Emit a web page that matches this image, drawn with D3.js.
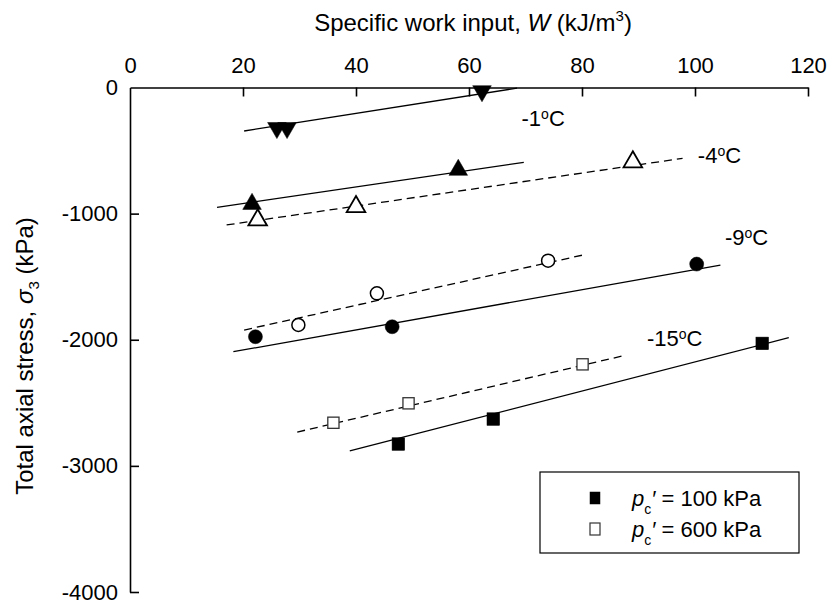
<!DOCTYPE html>
<html>
<head>
<meta charset="utf-8">
<script src="https://cdn.jsdelivr.net/npm/d3@7"></script>
<style>
  html, body { margin: 0; padding: 0; background: #fff; }
  svg { display: block; font-family: "Liberation Sans", Arial, sans-serif; }
</style>
</head>
<body>
<svg id="chart" width="829" height="605"></svg>
<script>
// Axis ticks
const xTicks = [0, 20, 40, 60, 80, 100, 120];
const yTicks = [0, -1000, -2000, -3000, -4000];

// Measured points: specific work input W (kJ/m3) vs total axial stress (kPa)
// p'c = 100 kPa (filled markers)
const w1C_100 = [26.0, 27.8, 62.3];
const s1C_100 = [-320, -320, -28];
const w4C_100 = [21.6, 58.1];
const s4C_100 = [-924, -654];
const w9C_100 = [22.2, 46.4, 100.3];
const s9C_100 = [-1976, -1897, -1400];
const w15C_100 = [47.5, 64.3, 111.9];
const s15C_100 = [-2827, -2629, -2029];

// p'c = 600 kPa (open markers)
const w4C_600 = [22.6, 40.0, 89.0];
const s4C_600 = [-1051, -945, -591];
const w9C_600 = [29.8, 43.7, 74.0];
const s9C_600 = [-1883, -1632, -1373];
const w15C_600 = [36.0, 49.3, 80.1];
const s15C_600 = [-2658, -2504, -2195];

// Linear trend lines: [W start, W end] and [stress start, stress end]
const fit1C_100 = { w: [20.2, 68.5], s: [-345, -5] };
const fit4C_100 = { w: [15.4, 69.7], s: [-950, -593] };
const fit4C_600 = { w: [17.1, 97.8], s: [-1090, -562] };
const fit9C_100 = { w: [18.3, 104.5], s: [-2095, -1408] };
const fit9C_600 = { w: [20.2, 80.2], s: [-1923, -1328] };
const fit15C_100 = { w: [38.9, 116.6], s: [-2882, -1984] };
const fit15C_600 = { w: [29.6, 87.6], s: [-2732, -2124] };

// Temperature labels: text, W and stress position
const tempLabels = ["-1", "-4", "-9", "-15"];
const tempLabelW = [69.3, 100.5, 105.3, 91.5];
const tempLabelS = [-245, -540, -1190, -1990];

const legendLabels = ["100", "600"];

const FONT = "Liberation Sans, Arial, sans-serif";
const svg = d3.select("#chart");
const x = d3.scaleLinear().domain([0, 120]).range([130, 808]);
const y = d3.scaleLinear().domain([0, -4000]).range([87.5, 592]);

// Top x axis, ticks pointing into the plot
const xAxis = svg.append("g")
  .attr("transform", `translate(0,${y(0)})`)
  .call(d3.axisTop(x).tickValues(xTicks).tickFormat(d => String(d))
    .tickSizeInner(-9).tickSizeOuter(0).tickPadding(15));
xAxis.select(".domain").attr("stroke", "#000").attr("stroke-width", 1.6);
xAxis.selectAll(".tick line").attr("stroke", "#000").attr("stroke-width", 1.6);
xAxis.selectAll(".tick").filter(d => d === 0).select("line").remove();
xAxis.selectAll(".tick text").attr("font-size", 22).attr("fill", "#000").attr("font-family", FONT);

// Left y axis, ticks pointing into the plot
const yAxis = svg.append("g")
  .attr("transform", `translate(${x(0)},0)`)
  .call(d3.axisLeft(y).tickValues(yTicks).tickFormat(d => String(d))
    .tickSizeInner(-9).tickSizeOuter(0).tickPadding(12));
yAxis.select(".domain").attr("stroke", "#000").attr("stroke-width", 1.6);
yAxis.selectAll(".tick line").attr("stroke", "#000").attr("stroke-width", 1.6);
yAxis.selectAll(".tick").filter(d => d === 0).select("line").remove();
yAxis.selectAll(".tick text").attr("font-size", 22).attr("fill", "#000").attr("font-family", FONT);

// Axis titles
const xTitle = svg.append("text")
  .attr("x", 473).attr("y", 31)
  .attr("text-anchor", "middle").attr("font-size", 24);
xTitle.append("tspan").text("Specific work input, ");
xTitle.append("tspan").attr("font-style", "italic").text("W");
xTitle.append("tspan").text(" (kJ/m");
xTitle.append("tspan").attr("font-size", 15).attr("dy", -10).text("3");
xTitle.append("tspan").attr("dy", 10).text(")");

const yTitle = svg.append("text")
  .attr("transform", "translate(33,356) rotate(-90)")
  .attr("text-anchor", "middle").attr("font-size", 24);
yTitle.append("tspan").text("Total axial stress, ");
yTitle.append("tspan").attr("font-style", "italic").text("σ");
yTitle.append("tspan").attr("font-size", 15).attr("dy", 6).text("3");
yTitle.append("tspan").attr("dy", -6).text(" (kPa)");

// Trend lines
const plot = svg.append("g");
function trend(fit, dashed) {
  plot.append("line")
    .attr("x1", x(fit.w[0])).attr("y1", y(fit.s[0]))
    .attr("x2", x(fit.w[1])).attr("y2", y(fit.s[1]))
    .attr("stroke", "#000").attr("stroke-width", 1.3)
    .attr("stroke-dasharray", dashed ? "8,5" : null);
}
trend(fit1C_100, false);
trend(fit4C_100, false);
trend(fit4C_600, true);
trend(fit9C_100, false);
trend(fit9C_600, true);
trend(fit15C_100, false);
trend(fit15C_600, true);

// Markers
const triUp = d3.symbol().type(d3.symbolTriangle).size(150)();
function points(ws, ss, kind, filled) {
  const g = plot.append("g");
  ws.forEach((w, i) => {
    const cx = x(w), cy = y(ss[i]);
    const fill = filled ? "#000" : "#fff";
    if (kind === "circle") {
      g.append("circle").attr("cx", cx).attr("cy", cy).attr("r", filled ? 7 : 6.5)
        .attr("fill", fill).attr("stroke", "#000").attr("stroke-width", filled ? 0.5 : 1.5);
    } else if (kind === "square") {
      const h = filled ? 6.3 : 5.6;
      g.append("rect").attr("x", cx - h).attr("y", cy - h).attr("width", 2 * h).attr("height", 2 * h)
        .attr("fill", fill).attr("stroke", filled ? "#000" : "#333").attr("stroke-width", filled ? 0.5 : 1.3);
    } else if (kind === "triUp" || kind === "triDown") {
      g.append("path").attr("d", triUp)
        .attr("transform", `translate(${cx},${cy})${kind === "triDown" ? " rotate(180)" : ""}`)
        .attr("fill", fill).attr("stroke", "#000").attr("stroke-width", filled ? 0.5 : 1.8);
    }
  });
}
points(w1C_100, s1C_100, "triDown", true);
points(w4C_100, s4C_100, "triUp", true);
points(w4C_600, s4C_600, "triUp", false);
points(w9C_100, s9C_100, "circle", true);
points(w9C_600, s9C_600, "circle", false);
points(w15C_100, s15C_100, "square", true);
points(w15C_600, s15C_600, "square", false);

// Temperature labels
tempLabels.forEach((t, i) => {
  const txt = svg.append("text")
    .attr("x", x(tempLabelW[i])).attr("y", y(tempLabelS[i]))
    .attr("font-size", 22).attr("dy", "0.35em");
  txt.append("tspan").text(t);
  txt.append("tspan").attr("font-size", 14).attr("dy", -7).text("o");
  txt.append("tspan").attr("dy", 7).text("C");
});

// Legend
const legend = svg.append("g");
legend.append("rect").attr("x", 540).attr("y", 472).attr("width", 259).attr("height", 81)
  .attr("fill", "#fff").attr("stroke", "#000").attr("stroke-width", 1.2);
legendLabels.forEach((v, i) => {
  const cy = 498 + i * 31;
  legend.append("rect").attr("x", 590).attr("y", cy - 6).attr("width", 10).attr("height", 12)
    .attr("fill", i === 0 ? "#000" : "#fff").attr("stroke", i === 0 ? "#000" : "#333")
    .attr("stroke-width", i === 0 ? 0.5 : 1.2);
  const txt = legend.append("text").attr("x", 632).attr("y", cy).attr("dy", "0.35em").attr("font-size", 22);
  txt.append("tspan").attr("font-style", "italic").text("p");
  txt.append("tspan").attr("font-size", 14).attr("dy", 8).text("c");
  txt.append("tspan").attr("dy", -8).attr("font-style", "italic").text("′");
  txt.append("tspan").text(` = ${v} kPa`);
});
</script>
</body>
</html>
